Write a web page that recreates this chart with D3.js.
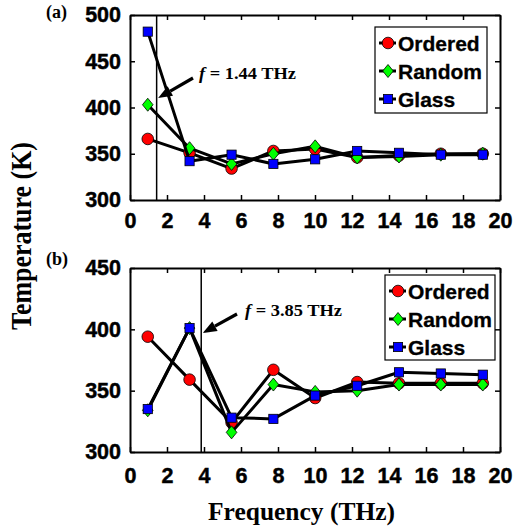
<!DOCTYPE html>
<html>
<head>
<meta charset="utf-8">
<script src="https://cdn.jsdelivr.net/npm/d3@7"></script>
<style>
  html, body { margin: 0; padding: 0; background: #fff; }
  svg { display: block; }
  .tick text { font-family: "Liberation Sans", Arial, sans-serif; font-weight: bold; font-size: 21.5px; fill: #000; stroke: #000; stroke-width: 0.45px; }
</style>
</head>
<body>
<svg id="chart" width="513" height="530"></svg>
<script>
// Frequencies sampled (THz)
const frequencies = [0.96, 3.22, 5.49, 7.75, 10.01, 12.28, 14.54, 16.8, 19.07];

// Panel (a) temperatures (K)
const orderedA = [366, 351, 334, 353, 355, 346, 348, 350, 350];
const randomA  = [403, 356, 339, 350, 358, 346, 347, 349, 350];
const glassA   = [482, 342, 349, 339, 344, 353, 351, 349, 349];

// Panel (b) temperatures (K)
const orderedB = [394, 359, 324, 367, 344, 357, 356, 356, 356];
const randomB  = [334, 401, 316, 355, 349, 350, 355, 355, 355];
const glassB   = [335, 401, 328, 327, 346, 354, 365, 364, 363];

const seriesNames = ["Ordered", "Random", "Glass"];
const seriesColors = ["#ff0000", "#00ff00", "#0000ff"];
const seriesShapes = ["circle", "diamond", "square"];

const xTicks = [0, 2, 4, 6, 8, 10, 12, 14, 16, 18, 20];
const yTicksA = [300, 350, 400, 450, 500];
const yTicksB = [300, 350, 400, 450];

const markerFreqA = 1.44;
const markerFreqB = 3.85;

const serif = "'Liberation Serif', 'Times New Roman', serif";
const sans = "'Liberation Sans', Arial, sans-serif";

const svg = d3.select("#chart");
const x = d3.scaleLinear().domain([0, 20]).range([130, 500]);

function marker(g, shape, color) {
  if (shape === "circle") {
    g.append("circle").attr("r", 5.8).attr("fill", color).attr("stroke", "#000").attr("stroke-width", 0.8);
  } else if (shape === "diamond") {
    g.append("path").attr("d", "M0,-6.5L5.3,0L0,6.5L-5.3,0Z").attr("fill", color).attr("stroke", "#000").attr("stroke-width", 0.8);
  } else {
    g.append("rect").attr("x", -4.6).attr("y", -4.6).attr("width", 9.2).attr("height", 9.2)
      .attr("fill", color).attr("stroke", "#000").attr("stroke-width", 0.8);
  }
}

function panel(opts) {
  const y = d3.scaleLinear().domain(opts.yDomain).range([opts.bottom, opts.top]);
  const g = svg.append("g");

  // frame axes with inward ticks
  const bottomAxis = d3.axisBottom(x).tickValues(xTicks).tickSizeInner(-5).tickSizeOuter(0).tickPadding(opts.xPad);
  const topAxis = d3.axisTop(x).tickValues(xTicks).tickSizeInner(-5).tickSizeOuter(0).tickFormat("");
  const leftAxis = d3.axisLeft(y).tickValues(opts.yTicks).tickSizeInner(-5).tickSizeOuter(0).tickPadding(9);
  const rightAxis = d3.axisRight(y).tickValues(opts.yTicks).tickSizeInner(-5).tickSizeOuter(0).tickFormat("");

  const gb = g.append("g").attr("transform", `translate(0,${opts.bottom})`).call(bottomAxis);
  g.append("g").attr("transform", `translate(0,${opts.top})`).call(topAxis);
  g.append("g").attr("transform", `translate(${x(0)},0)`).call(leftAxis);
  g.append("g").attr("transform", `translate(${x(20)},0)`).call(rightAxis);
  g.selectAll(".domain").attr("stroke", "#000").attr("stroke-width", 2);
  g.selectAll(".tick line").attr("stroke", "#000").attr("stroke-width", 1.5);
  gb.selectAll(".tick text").attr("dy", null).attr("dominant-baseline", "hanging");

  // reference frequency line
  g.append("line")
    .attr("x1", x(opts.markerFreq)).attr("x2", x(opts.markerFreq))
    .attr("y1", opts.top).attr("y2", opts.bottom)
    .attr("stroke", "#000").attr("stroke-width", 1.5);

  // series
  const line = d3.line().x((d, i) => x(frequencies[i])).y(d => y(d));
  opts.series.forEach((vals, k) => {
    g.append("path").datum(vals).attr("d", line)
      .attr("fill", "none").attr("stroke", "#000").attr("stroke-width", 3).attr("stroke-linejoin", "round");
    vals.forEach((v, i) => {
      const m = g.append("g").attr("transform", `translate(${x(frequencies[i])},${y(v)})`);
      marker(m, seriesShapes[k], seriesColors[k]);
    });
  });

  // annotation arrow and label
  const tip = [x(opts.markerFreq) + 1.5, opts.arrowTipY];
  const tail = opts.arrowTail;
  const ang = Math.atan2(tip[1] - tail[1], tip[0] - tail[0]);
  const headLen = 14, headW = 5.5;
  const base = [tip[0] - headLen * Math.cos(ang), tip[1] - headLen * Math.sin(ang)];
  g.append("line").attr("x1", tail[0]).attr("y1", tail[1]).attr("x2", base[0]).attr("y2", base[1])
    .attr("stroke", "#000").attr("stroke-width", 3.2);
  const px = -Math.sin(ang), py = Math.cos(ang);
  g.append("path")
    .attr("d", `M${tip[0]},${tip[1]}L${base[0] + px * headW},${base[1] + py * headW}L${base[0] - px * headW},${base[1] - py * headW}Z`)
    .attr("fill", "#000");
  const t = g.append("text")
    .attr("x", opts.labelPos[0]).attr("y", opts.labelPos[1])
    .attr("font-family", serif)
    .attr("font-weight", "bold").attr("font-size", 16.5)
    .attr("textLength", 97).attr("lengthAdjust", "spacingAndGlyphs");
  t.append("tspan").attr("font-style", "italic").text("f");
  t.append("tspan").text(` = ${opts.markerFreq.toFixed(2)} THz`);

  // panel tag
  g.append("text").attr("x", 46).attr("y", opts.tagY)
    .attr("font-family", serif)
    .attr("font-weight", "bold").attr("font-size", 18).text(opts.tag);

  // legend
  const L = opts.legend;
  g.append("rect").attr("x", L.x).attr("y", L.y).attr("width", L.w).attr("height", L.h)
    .attr("fill", "#fff").attr("stroke", "#000").attr("stroke-width", 1.2);
  seriesNames.forEach((name, k) => {
    const cy = L.y + 16 + k * 28;
    const mx = L.x + 13;
    g.append("line").attr("x1", mx - 9).attr("x2", mx + 8).attr("y1", cy).attr("y2", cy)
      .attr("stroke", "#000").attr("stroke-width", 3);
    marker(g.append("g").attr("transform", `translate(${mx},${cy})`), seriesShapes[k], seriesColors[k]);
    g.append("text").attr("x", mx + 10).attr("y", cy).attr("dy", "0.36em")
      .attr("font-family", sans).attr("font-weight", "bold")
      .attr("font-size", 21).attr("stroke", "#000").attr("stroke-width", 0.3).text(name);
  });
}

panel({
  top: 15, bottom: 200, yDomain: [300, 500], yTicks: yTicksA, xPad: 13,
  series: [orderedA, randomA, glassA], markerFreq: markerFreqA,
  arrowTipY: 98, arrowTail: [193, 78], labelPos: [199, 79],
  tag: "(a)", tagY: 18,
  legend: { x: 375, y: 27, w: 112, h: 86 }
});

panel({
  top: 268, bottom: 452, yDomain: [300, 450], yTicks: yTicksB, xPad: 16,
  series: [orderedB, randomB, glassB], markerFreq: markerFreqB,
  arrowTipY: 333, arrowTail: [237, 314], labelPos: [245, 316],
  tag: "(b)", tagY: 265,
  legend: { x: 385, y: 275, w: 110, h: 85 }
});

// axis titles
svg.append("text")
  .attr("transform", `translate(31,236) rotate(-90)`)
  .attr("text-anchor", "middle")
  .attr("font-family", serif)
  .attr("font-weight", "bold").attr("font-size", 30)
  .attr("textLength", 188).attr("lengthAdjust", "spacingAndGlyphs")
  .text("Temperature (K)");

svg.append("text")
  .attr("x", 301.5).attr("y", 520)
  .attr("text-anchor", "middle")
  .attr("font-family", serif)
  .attr("font-weight", "bold").attr("font-size", 26)
  .attr("textLength", 187).attr("lengthAdjust", "spacingAndGlyphs")
  .text("Frequency (THz)");
</script>
</body>
</html>
